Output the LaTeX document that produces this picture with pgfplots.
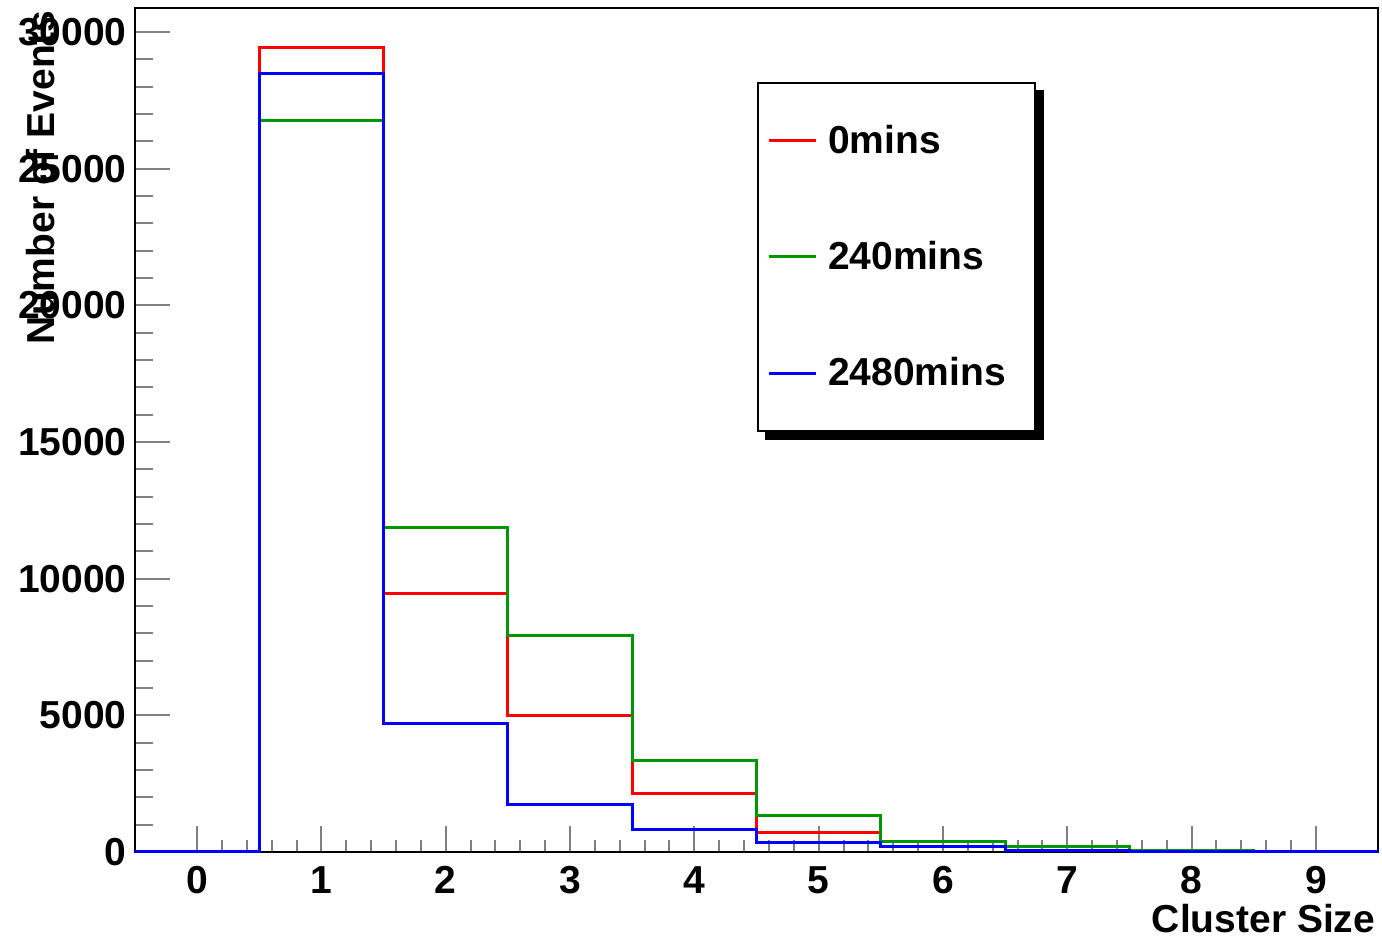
\documentclass[border=0pt]{standalone}
\usepackage{fontspec}
\setmainfont{Liberation Sans}
\usepackage{pgfplots}
\usepackage{pgfplotstable}
\pgfplotsset{compat=1.18}
\usetikzlibrary{backgrounds}
\definecolor{rootred}{RGB}{255,0,0}
\definecolor{rootgreen}{RGB}{0,150,0}
\definecolor{rootblue}{RGB}{0,0,255}
\newcommand\lf{\fontsize{19.5}{23}\selectfont\bfseries}

\pgfplotstableread{
x     red    green  blue
-0.5  0      0      0
0.5   29450  26750  28467
1.5   9440   11855  4683
2.5   4976   7903   1720
3.5   2122   3330   805
4.5   725    1325   345
5.5   190    370    190
6.5   60     210    40
7.5   20     60     15
8.5   10     20     5
9.5   10     20     5
}\histdata

\begin{document}
\begin{tikzpicture}
\begin{axis}[
  scale only axis, width=621.5pt, height=422pt,
  at={(0,0)}, anchor=south west,
  xmin=-0.5, xmax=9.5, ymin=0, ymax=30880,
  axis line style={line width=1pt},
  tick align=inside, tick pos=left,
  xtick={0,1,...,9}, ytick={0,5000,...,30000},
  minor x tick num=4, minor y tick num=4,
  xtick style={line width=1pt, /pgfplots/major tick length=13pt, /pgfplots/minor tick length=6pt},
  ytick style={line width=1pt, /pgfplots/major tick length=17.5pt, /pgfplots/minor tick length=9pt},
  scaled y ticks=false,
  /pgf/number format/assume math mode=true,
  /pgf/number format/1000 sep={},
  tick label style={font=\lf},
  xticklabel style={inner sep=0pt, yshift=-7pt},
  yticklabel style={inner sep=0pt, xshift=-4pt},
  xlabel={Cluster Size},
  xlabel style={at={(axis description cs:0.998,-0.0955)}, anchor=base east, inner sep=0pt, font=\lf},
  ylabel={Number of Events},
  ylabel style={at={(axis description cs:-0.0644,0.9976)}, anchor=base east, inner sep=0pt, font=\lf},
  legend style={name=leg, at={(0.5004,0.9123)}, anchor=north west, draw=black, line width=1pt,
    inner xsep=4.5pt, inner ysep=21pt, row sep=42.5pt, font=\lf, nodes={inner sep=0pt},
    /tikz/every odd column/.append style={column sep=5.5pt}},
  legend cell align=left,
  legend image code/.code={\draw[#1, line width=1.5pt] (0pt,0pt) -- (23.5pt,0pt);},
  clip=false,
]
\addplot[const plot, rootred, line width=1.5pt] table[x=x, y=red] {\histdata};
\addlegendentry{0mins}
\addplot[const plot, rootgreen, line width=1.5pt] table[x=x, y=green] {\histdata};
\addlegendentry{240mins}
\addplot[const plot, rootblue, line width=1.5pt] table[x=x, y=blue] {\histdata};
\addlegendentry{2480mins\hspace*{10pt}}
\end{axis}
\begin{scope}[on background layer]
  \fill[black] ([xshift=4pt,yshift=-4pt]leg.south west) rectangle ([xshift=4pt,yshift=-4pt]leg.north east);
\end{scope}
\pgfresetboundingbox
\path[use as bounding box] (-67.5pt,-44pt) rectangle (623.5pt,426pt);
\end{tikzpicture}
\end{document}
